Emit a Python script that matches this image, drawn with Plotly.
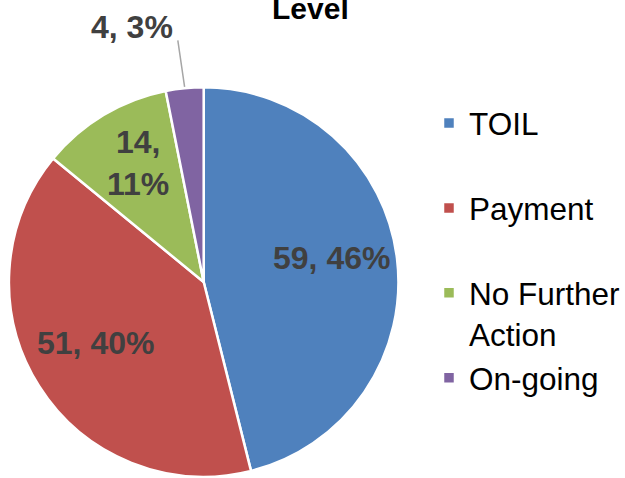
import math
import plotly.graph_objects as go

W, H = 625, 478

labels = ["TOIL", "Payment", "No Further Action", "On-going"]
legend_text = ["TOIL<br> ", "Payment<br> ", "No Further<br>Action", "On-going"]
values = [59, 51, 14, 4]
colors = ["#4F81BD", "#C0504D", "#9BBB59", "#8064A2"]


def px(x, y):
    # screen pixel -> paper coordinates
    return x / W, 1 - y / H


# pie placement in screen pixels (centre and radius)
cx, cy, R = 205, 282, 196
x0, y0 = px(cx - R, cy + R)
x1, y1 = px(cx + R, cy - R)

fig = go.Figure()
fig.add_trace(go.Pie(
    labels=legend_text,
    values=values,
    sort=False,
    direction="clockwise",
    rotation=0,
    marker=dict(colors=colors, line=dict(color="white", width=2.5)),
    textinfo="none",
    hovertext=labels,
    hoverinfo="text+value+percent",
    domain=dict(x=[x0, x1], y=[max(y0, 0), y1]),
))

label_font = dict(size=32, color="#404040", family="Liberation Sans, Arial")

# data labels placed from the slice angles
total = sum(values)
cum = 0
annotations = []
for v in values:
    mid = (cum + v / 2) / total * 2 * math.pi
    cum += v
    pct = round(100 * v / total)
    if v / total > 0.05:
        txt = f"{v}, {pct}%" if v / total > 0.2 else f"{v},<br>{pct}%"
        f = 0.66
        ax_, ay_ = px(cx + f * R * math.sin(mid), cy - f * R * math.cos(mid))
        annotations.append(dict(
            x=ax_, y=ay_, xref="paper", yref="paper",
            xanchor="center", yanchor="middle", yshift=8,
            text=f"<b>{txt}</b>", showarrow=False, font=label_font,
        ))
    else:
        # small slice: label outside with a leader line
        ex, ey = px(cx + R * math.sin(mid), cy - R * math.cos(mid))
        annotations.append(dict(
            x=ex, y=ey, xref="paper", yref="paper",
            text="", showarrow=True,
            arrowhead=0, arrowwidth=1.5, arrowcolor="#A6A6A6",
            ax=-7, ay=-48, standoff=0,
        ))
        annotations.append(dict(
            x=ex, y=ey, xref="paper", yref="paper",
            xanchor="center", yanchor="middle",
            xshift=-53, yshift=60,
            text=f"<b>{v}, {pct}%</b>", showarrow=False, font=label_font,
        ))

# title (only its last line is inside the picture)
tx, ty = px(313, 8)
annotations.append(dict(
    x=tx, y=ty, xref="paper", yref="paper",
    text="<b>Level</b>", showarrow=False, xanchor="center", yanchor="middle",
    font=dict(size=30, color="black", family="Liberation Sans, Arial"),
))

lx, ly = px(432, 96)
fig.update_layout(
    width=W, height=H,
    margin=dict(l=0, r=0, t=0, b=0),
    paper_bgcolor="white",
    plot_bgcolor="white",
    font=dict(family="Liberation Sans, Arial", color="black"),
    showlegend=True,
    legend=dict(
        x=lx, xanchor="left",
        y=ly, yanchor="top",
        font=dict(size=31.5, color="black"),
        valign="top",
        bgcolor="rgba(0,0,0,0)",
    ),
    annotations=annotations,
)

# drop the browser's default 8px body margin so the figure fills the window
fig.write_html("out.html", config={"displayModeBar": False},
               post_script="document.body.style.margin='0';")
